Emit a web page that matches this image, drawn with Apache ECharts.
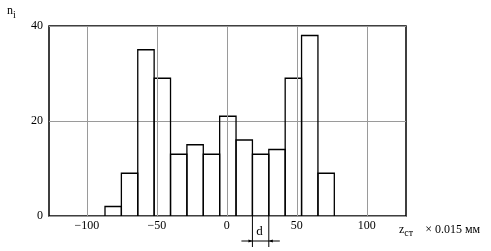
<!DOCTYPE html>
<html><head><meta charset="utf-8">
<script src="https://cdn.jsdelivr.net/npm/echarts@6/dist/echarts.min.js"></script>
<style>html,body{margin:0;padding:0;background:#fff}#c{width:491px;height:251px}</style>
</head><body><div id="c"></div>
<script>
// Bin edges (x values, units of 0.015 mm)
var binEdges = [-87, -75.3, -63.6, -51.9, -40.2, -28.5, -16.8, -5.1, 6.6, 18.3, 30.0, 41.7, 53.4, 65.1, 76.8];
// Counts n_i per bin
var counts = [2, 9, 35, 29, 13, 15, 13, 21, 16, 13, 14, 29, 38, 9];
var xTicks = [-100, -50, 0, 50, 100];
var yTicks = [0, 20, 40];
var dBin = 9; // bin marked with "d"

var FONT = '"Liberation Serif", "DejaVu Serif", serif';
var barData = counts.map(function (c, i) { return [binEdges[i], binEdges[i + 1], c]; });

var chart = echarts.init(document.getElementById('c'), null, {renderer: 'canvas'});
chart.setOption({
  animation: false,
  backgroundColor: '#fff',
  grid: {left: 49, right: 85, top: 26, bottom: 35, show: true, borderColor: '#000', borderWidth: 1.5, backgroundColor: 'transparent'},
  xAxis: {
    type: 'value', min: -127, max: 128,
    axisLine: {show: false}, axisTick: {show: false}, splitLine: {show: false},
    axisLabel: {
      customValues: xTicks, margin: 4, color: '#000', fontFamily: FONT, fontSize: 12,
      formatter: function (v) { return v < 0 ? '\u2212' + Math.abs(v) : String(v); }
    }
  },
  yAxis: {
    type: 'value', min: 0, max: 40, interval: 20,
    axisLine: {show: false}, axisTick: {show: false},
    splitLine: {show: true, lineStyle: {color: '#9a9a9a', width: 1}},
    axisLabel: {margin: 6, color: '#000', fontFamily: FONT, fontSize: 12}
  },
  graphic: [
    {type: 'text', left: 7, top: 5, style: {
      text: '{n|n}{i|i}', fill: '#000',
      rich: {n: {fontFamily: FONT, fontSize: 12, fill: '#000'},
             i: {fontFamily: FONT, fontSize: 10, fill: '#000', verticalAlign: 'bottom', padding: [9, 0, 0, 0]}}
    }},
    {type: 'text', left: 399, top: 224, style: {
      text: '{z|z}{s|ст}{r|\u00d7 0.015 мм}', fill: '#000',
      rich: {z: {fontFamily: FONT, fontSize: 12, fill: '#000'},
             s: {fontFamily: FONT, fontSize: 10, fill: '#000', padding: [7, 0, 0, 0]},
             r: {fontFamily: FONT, fontSize: 12, fill: '#000', padding: [0, 0, 0, 12]}}
    }}
  ],
  series: [
    {
      type: 'line', data: [], silent: true,
      markLine: {
        silent: true, symbol: 'none', label: {show: false}, animation: false,
        lineStyle: {color: '#9a9a9a', width: 1, type: 'solid'},
        data: xTicks.map(function (v) { return {xAxis: v}; })
      }
    },
    {
      type: 'custom', clip: false,
      encode: {x: [0, 1], y: 2},
      data: barData,
      renderItem: function (params, api) {
        var p0 = api.coord([api.value(0), api.value(2)]);
        var p1 = api.coord([api.value(1), 0]);
        return {
          type: 'polyline',
          shape: {points: [[p0[0], p1[1]], [p0[0], p0[1]], [p1[0], p0[1]], [p1[0], p1[1]]]},
          style: {fill: null, stroke: '#000', lineWidth: 1.3}
        };
      },
      z: 3
    },
    {
      type: 'custom', clip: false, silent: true,
      encode: {x: [0, 1], y: 2},
      data: [[binEdges[dBin], binEdges[dBin + 1], 0]],
      renderItem: function (params, api) {
        var a = api.coord([api.value(0), 0]);
        var b = api.coord([api.value(1), 0]);
        var y0 = a[1], yl = y0 + 25, ye = y0 + 31;
        return {
          type: 'group',
          children: [
            {type: 'line', shape: {x1: a[0], y1: y0, x2: a[0], y2: ye}, style: {stroke: '#000', lineWidth: 1}},
            {type: 'line', shape: {x1: b[0], y1: y0, x2: b[0], y2: ye}, style: {stroke: '#000', lineWidth: 1}},
            {type: 'line', shape: {x1: a[0] - 11, y1: yl, x2: b[0] + 11, y2: yl}, style: {stroke: '#000', lineWidth: 1}},
            {type: 'polygon', shape: {points: [[a[0], yl], [a[0] - 4, yl - 1.5], [a[0] - 4, yl + 1.5]]}, style: {fill: '#000'}},
            {type: 'polygon', shape: {points: [[b[0], yl], [b[0] + 4, yl - 1.5], [b[0] + 4, yl + 1.5]]}, style: {fill: '#000'}},
            {type: 'text', x: (a[0] + b[0]) / 2 - 1, y: y0 + 16, style: {text: 'd', fontFamily: FONT, fontSize: 13, fill: '#000', align: 'center', verticalAlign: 'middle'}}
          ]
        };
      },
      z: 4
    }
  ]
});
</script></body></html>
